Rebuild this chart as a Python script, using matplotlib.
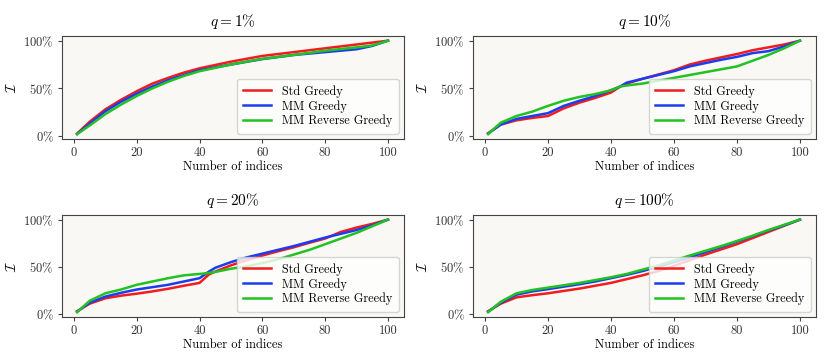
import numpy as np
import matplotlib
matplotlib.use("Agg")
import matplotlib.pyplot as plt
from matplotlib.ticker import FuncFormatter

plt.rcParams['font.family'] = 'serif'
plt.rcParams['font.serif'] = ['cmr10', 'DejaVu Serif']
plt.rcParams['mathtext.fontset'] = 'cm'
plt.rcParams['axes.unicode_minus'] = False

# ------------------------------------------------------------
# Data (values in %)
# ------------------------------------------------------------
x_q1 = [1, 5, 10, 15, 20, 25, 30, 35, 40, 50, 60, 70, 80, 90, 95, 100]
std_q1 = [2.5, 15, 28, 38, 47, 55, 61, 66.5, 71, 78, 84, 88, 92, 96, 98, 100]
mm_q1 = [2.2, 13, 26, 36, 44.5, 52, 58.6, 64, 69, 75, 80.7, 85, 88, 91, 94.5, 100]
rev_q1 = [2.0, 11, 23, 33, 42, 50, 57, 63, 68, 75, 81, 85, 89.5, 93, 95, 100]

x_q10 = [1, 5, 10, 15, 20, 25, 30, 35, 40, 43, 45, 50, 55, 60, 65, 70, 75, 80, 85, 90, 95, 100]
std_q10 = [3, 12, 16.5, 19, 21, 29, 35, 40, 45.6, 52, 55, 60, 64.5, 69, 75, 79, 82.5, 86, 90, 93, 96, 100]
mm_q10 = [2.5, 12, 18, 21, 24, 31.6, 37, 42, 48, 52, 56, 60, 64, 68, 73, 76.5, 80, 83, 87, 89, 94, 100]
rev_q10 = [2, 14, 21, 25.6, 31.6, 37, 41, 44, 48, 52, 53, 55, 58, 61, 64, 67, 70, 73, 79, 85, 92, 100]

x_q20 = [1, 5, 10, 15, 20, 25, 30, 35, 40, 43, 45, 50, 55, 60, 65, 70, 75, 80, 85, 90, 95, 100]
std_q20 = [3, 11, 16.7, 19.5, 21.6, 24, 26.8, 30, 33, 42, 45, 51.6, 57, 62, 66.5, 70.7, 75.5, 80, 87, 91.6, 95.5, 100]
mm_q20 = [2.5, 12, 18.5, 22.5, 26, 28.5, 31, 34.5, 38, 45, 49, 55, 60, 64, 68, 72, 76.5, 81, 85, 89, 94, 100]
rev_q20 = [2, 14, 22, 26, 31, 34.5, 38, 41, 42.5, 43.5, 44.6, 48, 50.5, 54, 58, 63, 68, 74, 80, 86, 93, 100]

x_q100 = [1, 5, 10, 15, 20, 25, 30, 35, 40, 45, 50, 55, 60, 65, 70, 75, 80, 85, 90, 95, 100]
std_q100 = [3, 11, 17.7, 20, 22, 24.5, 27, 30, 33, 37, 41, 45.5, 51, 57, 63, 68.5, 74, 80.5, 87, 93.5, 100]
mm_q100 = [2.5, 12, 20.5, 24, 26.4, 29, 31.6, 34.5, 38, 41.5, 45.5, 50, 55, 60, 65.6, 71, 76.7, 82.5, 88.5, 94, 100]
rev_q100 = [2, 13, 22, 25.5, 28, 30.5, 33, 36, 39, 42.5, 47, 51.5, 56.6, 62, 67, 72, 77.4, 83, 89, 94.5, 100]

titles = [r'$q = 1\%$', r'$q = 10\%$', r'$q = 20\%$', r'$q = 100\%$']
panels = [
    (x_q1, std_q1, mm_q1, rev_q1),
    (x_q10, std_q10, mm_q10, rev_q10),
    (x_q20, std_q20, mm_q20, rev_q20),
    (x_q100, std_q100, mm_q100, rev_q100),
]
labels = ['Std Greedy', 'MM Greedy', 'MM Reverse Greedy']
colors = ['#f21c1c', '#1c3cf2', '#22c222']

# ------------------------------------------------------------
# Figure
# ------------------------------------------------------------
W, H = 830, 363
fig = plt.figure(figsize=(W / 100, H / 100), dpi=100)

boxes = [
    (62, 36, 342, 103),
    (473, 36, 343, 103),
    (62, 215, 342, 102),
    (473, 215, 343, 102),
]

pct = FuncFormatter(lambda v, p: r'$%d\%%$' % round(v * 100))

for (l, t, w, h), title, data in zip(boxes, titles, panels):
    ax = fig.add_axes([l / W, 1 - (t + h) / H, w / W, h / H])
    ax.set_facecolor('#f9f8f4')
    xs = data[0]
    for ys, lab, col in zip(data[1:], labels, colors):
        ax.plot(xs, np.array(ys) / 100.0, color=col, lw=1.8, label=lab)
    ax.set_xlim(-3.8, 105.1)
    ax.set_ylim(-0.031, 1.049)
    ax.set_xticks([0, 20, 40, 60, 80, 100])
    ax.set_yticks([0, 0.5, 1.0])
    ax.yaxis.set_major_formatter(pct)
    ax.tick_params(labelsize=9, colors='#444444', labelcolor='#333333',
                   length=3, pad=3)
    for s in ax.spines.values():
        s.set_color('#444444')
    ax.set_title(title, fontsize=11, pad=7)
    ax.set_xlabel('Number of indices', fontsize=9, labelpad=1)
    ax.set_ylabel(r'$\mathcal{I}$', fontsize=10, labelpad=3)
    ax.legend(loc='lower right', fontsize=8.8, handlelength=2.3,
              borderpad=0.5, labelspacing=0.18, handletextpad=0.9,
              borderaxespad=0.45)

fig.savefig('out.png', dpi=100)
